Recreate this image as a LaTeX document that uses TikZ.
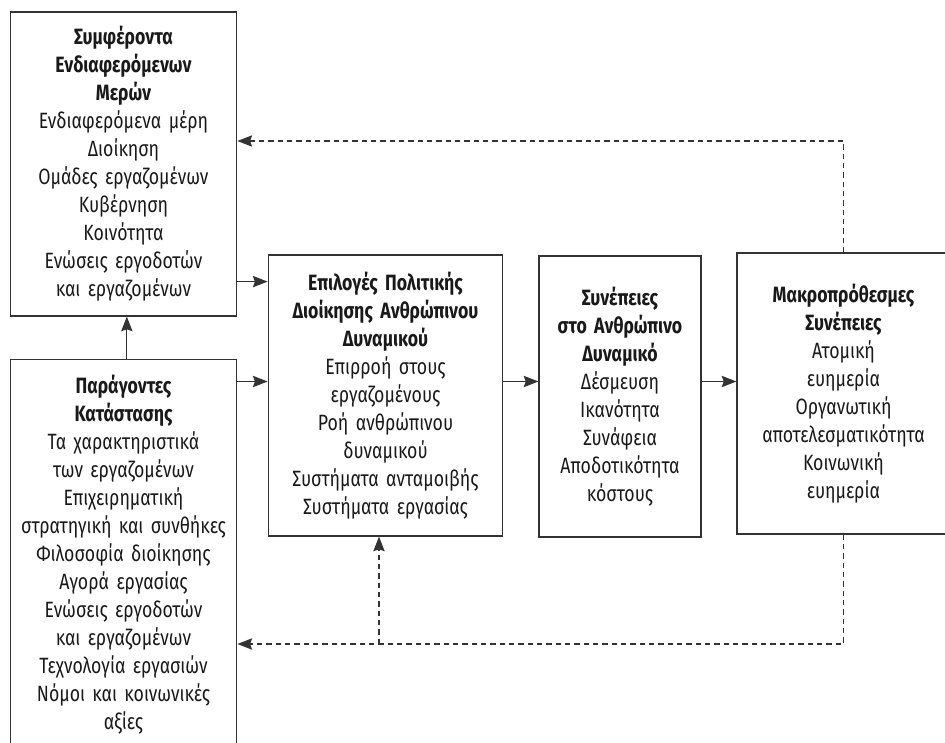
\documentclass[tikz,border=0pt]{standalone}
\usepackage{fontspec}
\setmainfont{Fira Sans}[FakeStretch=0.8]
\usepackage{tikz}
\usetikzlibrary{arrows.meta,calc,positioning}

\begin{document}
\begin{tikzpicture}[
  x=0.75pt, y=-0.75pt,
  box/.style={rectangle, draw=black!80, line width=0.9pt, inner sep=2pt, align=center,
    text=black!90, font=\fontsize{16.6}{21}\selectfont},
  flow/.style={-{Stealth[length=11pt,width=8.5pt,inset=1.5pt]}, line width=0.9pt, black!80},
  feedback/.style={flow, dash pattern=on 4pt off 3pt}
]
  \useasboundingbox (0,0) rectangle (945,742);
  \clip (0,0) rectangle (945,742);

  % Boxes
  \node[box, text width=166pt, minimum height=228pt] (stake) at (123.5,164)
    {{\bfseries Συμφέροντα\\Ενδιαφερόμενων\\Μερών}\\Ενδιαφερόμενα μέρη\\Διοίκηση\\Ομάδες εργαζομένων\\Κυβέρνηση\\Κοινότητα\\Ενώσεις εργοδοτών\\και εργαζομένων};
  \node[box, text width=166pt, minimum height=293pt] (situ) at (123.5,554.5)
    {{\bfseries Παράγοντες\\Κατάστασης}\\Τα χαρακτηριστικά\\των εργαζομένων\\Επιχειρηματική\\στρατηγική και συνθήκες\\Φιλοσοφία διοίκησης\\Αγορά εργασίας\\Ενώσεις εργοδοτών\\και εργαζομένων\\Τεχνολογία εργασιών\\Νόμοι και κοινωνικές\\αξίες};
  \node[box, text width=172pt, minimum height=210.75pt] (policy) at (385.5,395.5)
    {{\bfseries Επιλογές Πολιτικής\\Διοίκησης Ανθρώπινου\\Δυναμικού}\\Επιρροή στους\\εργαζομένους\\Ροή ανθρώπινου\\δυναμικού\\Συστήματα ανταμοιβής\\Συστήματα εργασίας};
  \node[box, text width=117.5pt, minimum height=210.75pt] (outcome) at (620,396.5)
    {{\bfseries Συνέπειες\\στο Ανθρώπινο\\Δυναμικό}\\Δέσμευση\\Ικανότητα\\Συνάφεια\\Αποδοτικότητα\\κόστους};
  \node[box, text width=155.75pt, minimum height=210.75pt] (longterm) at (843.5,393.5)
    {{\bfseries Μακροπρόθεσμες\\Συνέπειες}\\Ατομική\\ευημερία\\Οργανωτική\\αποτελεσματικότητα\\Κοινωνική\\ευημερία};

  \coordinate (mid) at (0,381.5);
  \coordinate (top) at (0,141);
  \coordinate (low) at (0,644);
  \coordinate (branch) at (379,644);

  % Solid arrows
  \draw[flow] ([xshift=2.5pt]situ.north) -- ([xshift=2.5pt]stake.south);
  \draw[flow] ($(stake.south east)+(0,-35)$) coordinate (s1) -- (s1 -| policy.west);
  \draw[flow] (situ.east |- mid) -- (policy.west |- mid);
  \draw[flow] (policy.east |- mid) -- (outcome.west |- mid);
  \draw[flow] (outcome.east |- mid) -- (longterm.west |- mid);

  % Feedback (dashed)
  \draw[feedback] (longterm.north) |- (stake.east |- top);
  \draw[feedback] (longterm.south) |- (situ.east |- low);
  \draw[feedback] (branch) -- (branch |- policy.south);
\end{tikzpicture}
\end{document}
